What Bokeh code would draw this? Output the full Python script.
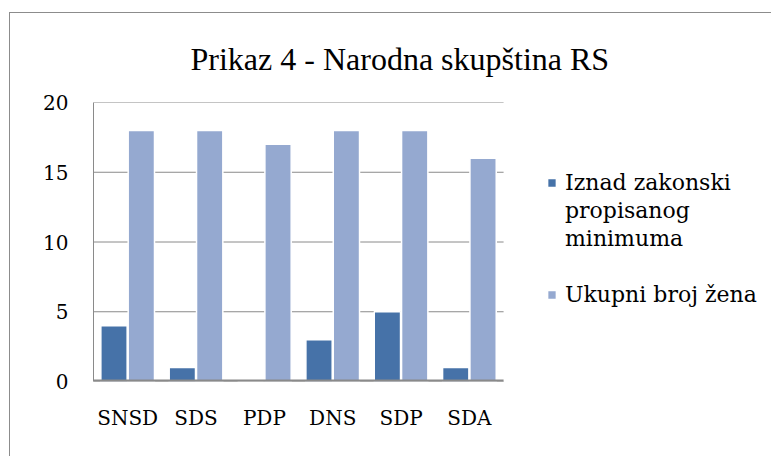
import numpy as np
from bokeh.plotting import figure
from bokeh.models import ColumnDataSource, Legend, LegendItem, Range1d, FixedTicker
from bokeh.embed import file_html
from bokeh.resources import INLINE

parties = ["SNSD", "SDS", "PDP", "DNS", "SDP", "SDA"]
above_minimum = [4, 1, 0, 3, 5, 1]
total_women = [18, 18, 17, 18, 18, 16]
# legend label of series 1 is wrapped over three lines, as in the original
series1_lines = ["Iznad zakonski", "propisanog", "minimuma"]
series2_name = "Ukupni broj žena"
title_text = "Prikaz 4 - Narodna skupština RS"
y_ticks = [0, 5, 10, 15, 20]

n = len(parties)
centers = np.arange(n) + 0.5
src = ColumnDataSource(dict(party=parties, center=centers,
                            x_above=centers - 0.2, x_total=centers + 0.2,
                            above=above_minimum, total=total_women))

# frame extends to the right so that the legend (drawn inside it) is not clipped
p = figure(
    x_range=Range1d(0, 9.92),
    y_range=Range1d(0, 20),
    width=762, height=444,
    output_backend="svg", toolbar_location=None,
    min_border_left=84, min_border_right=0, min_border_top=90, min_border_bottom=75,
    margin=(12, 0, 0, 9),
    styles={"box-shadow": "inset 1px 1px 0 0 #8c8c8c"},
)
p.outline_line_color = None
p.background_fill_color = "white"
p.border_fill_color = None

p.title.text = title_text
p.title.align = "left"
p.title.offset = 97
p.title.text_font = "Liberation Serif"
p.title.text_font_size = "32px"
p.title.text_font_style = "normal"
p.title.text_color = "black"
p.title.standoff = 52

grid_color = "#8a8a8a"
p.xgrid.visible = False
p.ygrid.visible = False
# horizontal gridlines spanning only the category area
p.segment(x0=0, x1=n, y0=y_ticks, y1=y_ticks, line_color=grid_color, line_width=1)

dark = "#4672A8"
light = "#95A9D0"
r1 = p.vbar(x="x_above", top="above", width=0.385, source=src,
            fill_color=dark, line_color="white", line_width=1.5)
r2 = p.vbar(x="x_total", top="total", width=0.385, source=src,
            fill_color=light, line_color="white", line_width=1.5)
# invisible renderer used only for the wrapped continuation lines of the legend
r_blank = p.vbar(x=[], top=[], width=0.1, fill_alpha=0, line_alpha=0)

# category axis baseline
p.segment(x0=0, x1=n, y0=0, y1=0, line_color=grid_color, line_width=4)

p.yaxis.ticker = FixedTicker(ticks=y_ticks)
p.xaxis.ticker = FixedTicker(ticks=list(centers))
p.xaxis.major_label_overrides = {float(c): name for c, name in zip(centers, parties)}

for ax in (p.xaxis[0], p.yaxis[0]):
    ax.major_tick_line_color = None
    ax.minor_tick_line_color = None
    ax.major_tick_out = 0
    ax.major_tick_in = 0
    ax.major_label_text_font = "DejaVu Serif"
    ax.major_label_text_font_size = "20px"
    ax.major_label_text_color = "black"
p.yaxis.axis_line_color = grid_color
p.yaxis.axis_line_width = 1
p.xaxis.axis_line_color = None
p.yaxis.major_label_standoff = 25
p.xaxis.major_label_standoff = 24

legend = Legend(
    items=[LegendItem(label=series1_lines[0], renderers=[r1]),
           LegendItem(label=series1_lines[1], renderers=[r_blank]),
           LegendItem(label=series1_lines[2], renderers=[r_blank]),
           LegendItem(label=" ", renderers=[r_blank]),
           LegendItem(label=series2_name, renderers=[r2])],
    location=(453, 73), margin=0, padding=0, spacing=0,
    glyph_width=11, glyph_height=11, label_standoff=8, label_height=28,
    label_text_font="DejaVu Serif", label_text_font_size="22px",
    label_text_color="black",
    border_line_color=None, background_fill_alpha=0,
)
p.add_layout(legend, "center")

open("out.html", "w").write(file_html(p, INLINE))
